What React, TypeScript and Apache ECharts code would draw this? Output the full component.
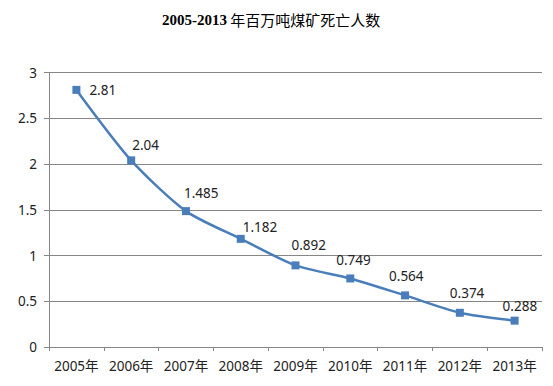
import React, { useEffect, useRef } from "react";
import * as echarts from "echarts";

const categories = ["2005年", "2006年", "2007年", "2008年", "2009年", "2010年", "2011年", "2012年", "2013年"];
const deathsPerMillionTons = [2.81, 2.04, 1.485, 1.182, 0.892, 0.749, 0.564, 0.374, 0.288];
const labelOffsets: [number, number][] = [
  [13, 0], [1, -15], [-2, -18], [2, -12], [-4, -20], [-14, -18], [-16, -19], [-10, -20], [-12, -15],
];
const titleYears = "2005-2013";
const titleRest = " 年百万吨煤矿死亡人数";

export default function App() {
  const ref = useRef<HTMLDivElement>(null);
  useEffect(() => {
    document.body.style.margin = "0";
    if (!ref.current) return;
    const chart = echarts.init(ref.current, null, { renderer: "svg" });
    const font = "'Noto Sans', 'Noto Sans CJK SC', sans-serif";
    chart.setOption({
      animation: false,
      backgroundColor: "#ffffff",
      title: {
        text: `{a|${titleYears}}{b|${titleRest}}`,
        left: 157,
        top: 7,
        textStyle: {
          rich: {
            a: {
              fontFamily: "'Liberation Serif', serif",
              fontSize: 15,
              fontWeight: "bold",
              color: "#000000",
            },
            b: {
              fontFamily: "'Noto Sans CJK SC', sans-serif",
              fontSize: 15,
              fontWeight: "normal",
              color: "#000000",
            },
          },
        },
      },
      grid: { left: 49, right: 11, top: 72.5, bottom: 39, containLabel: false },
      xAxis: {
        type: "category",
        data: categories,
        boundaryGap: true,
        axisLine: { lineStyle: { color: "#868686", width: 1 } },
        axisTick: { show: true, length: 4, interval: 0, lineStyle: { color: "#868686" } },
        axisLabel: { color: "#222", fontSize: 13.5, fontFamily: font, margin: 12, interval: 0 },
      },
      yAxis: {
        type: "value",
        min: 0,
        max: 3,
        interval: 0.5,
        axisLine: { show: true, lineStyle: { color: "#868686", width: 1 } },
        axisTick: { show: true, length: 5, lineStyle: { color: "#868686" } },
        axisLabel: { color: "#222", fontSize: 13.5, fontFamily: font, margin: 12 },
        splitLine: { show: true, lineStyle: { color: "#868686", width: 1 } },
      },
      series: [
        {
          type: "line",
          data: deathsPerMillionTons.map((v, i) => ({
            value: v,
            label: { offset: labelOffsets[i] },
          })),
          smooth: 0.25,
          symbol: "rect",
          symbolSize: 8,
          lineStyle: { color: "#4A7EBB", width: 2.5 },
          itemStyle: { color: "#4A7EBB" },
          label: {
            show: true,
            position: "inside",
            align: "left",
            verticalAlign: "middle",
            color: "#222",
            fontSize: 13.5,
            fontFamily: font,
          },
        },
      ],
    });
    return () => chart.dispose();
  }, []);
  return <div ref={ref} style={{ width: 553, height: 386 }} />;
}
